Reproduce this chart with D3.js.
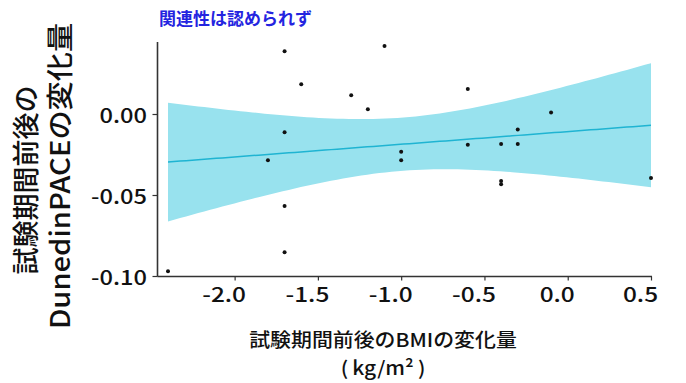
<!DOCTYPE html>
<html><head><meta charset="utf-8">
<script src="https://cdn.jsdelivr.net/npm/d3@7/dist/d3.min.js"></script>
<style>
html,body{margin:0;padding:0;background:#fff;}
svg text{font-family:"Noto Sans CJK JP","Noto Sans",sans-serif;}
</style></head>
<body><svg id="c" width="686" height="383"></svg>
<script>
// ---- data ----
const bmiChange = [-2.4,-1.8,-1.7,-1.7,-1.7,-1.7,-1.6,-1.3,-1.2,-1.1,-1.0,-1.0,-0.6,-0.6,-0.4,-0.4,-0.4,-0.3,-0.3,-0.1,0.5];
const paceChange = [-0.097,-0.0286,0.0387,-0.0113,-0.0568,-0.0854,0.0183,0.0115,0.0029,0.042,-0.0233,-0.0286,0.0154,-0.019,-0.0185,-0.0414,-0.0434,-0.0095,-0.0185,0.001,-0.0395];
const xTicks = [-2.0,-1.5,-1.0,-0.5,0.0,0.5];
const yTicks = [0.00,-0.05,-0.10];
const titleText = "関連性は認められず";
const yTitleLines = ["試験期間前後の","DunedinPACEの変化量"];
const xTitleLines = ["試験期間前後のBMIの変化量","(\u2009kg/m²\u2009)"];
const tCrit = 2.093; // t(0.975, df=19)

// ---- linear fit with 95% CI ----
const n = bmiChange.length;
const mx = d3.mean(bmiChange), my = d3.mean(paceChange);
let sxx=0, sxy=0;
for(let i=0;i<n;i++){ sxx += (bmiChange[i]-mx)**2; sxy += (bmiChange[i]-mx)*(paceChange[i]-my); }
const slope = sxy/sxx, intercept = my - slope*mx;
let sse=0; for(let i=0;i<n;i++){ sse += (paceChange[i]-(intercept+slope*bmiChange[i]))**2; }
const s = Math.sqrt(sse/(n-2));
const [xmin,xmax] = d3.extent(bmiChange);
const fit = d3.range(0,81).map(k=>{
  const xv = xmin + (xmax-xmin)*k/80;
  const yv = intercept + slope*xv;
  const se = s*Math.sqrt(1/n + (xv-mx)**2/sxx);
  return {x:xv, y:yv, lo:yv-tCrit*se, hi:yv+tCrit*se};
});

// ---- layout ----
const svg = d3.select("#c");
const x = d3.scaleLinear().domain([xmin,xmax]).range([168,651]);
const y = d3.scaleLinear().domain([-0.1,0]).range([276,114]);
const axisLeftX = 157.5, axisTopY = 42, axisBottomY = 276.5;
const hyph = f => v => f(v).replace("\u2212","-");

// band
svg.append("path").datum(fit)
  .attr("d", d3.area().x(d=>x(d.x)).y0(d=>y(d.lo)).y1(d=>y(d.hi)))
  .attr("fill","#98e2ee");
// line
svg.append("path").datum(fit)
  .attr("d", d3.line().x(d=>x(d.x)).y(d=>y(d.y)))
  .attr("fill","none").attr("stroke","#1fb4d2").attr("stroke-width",1.5);
// points
svg.append("g").selectAll("circle").data(bmiChange).join("circle")
  .attr("cx",(d)=>x(d)).attr("cy",(d,i)=>y(paceChange[i])).attr("r",2).attr("fill","#111");

// axes lines
svg.append("line").attr("x1",axisLeftX).attr("x2",axisLeftX).attr("y1",axisTopY).attr("y2",axisBottomY)
  .attr("stroke","#333").attr("stroke-width",1.6);
svg.append("line").attr("x1",axisLeftX).attr("x2",x(xmax)+1).attr("y1",axisBottomY).attr("y2",axisBottomY)
  .attr("stroke","#333").attr("stroke-width",1.6);

// x axis ticks
const xAxis = svg.append("g").attr("transform",`translate(0,${axisBottomY})`)
  .call(d3.axisBottom(x).tickValues(xTicks).tickFormat(hyph(d3.format(".1f"))).tickSize(4).tickPadding(7));
xAxis.select(".domain").remove();
xAxis.selectAll("line").attr("stroke","#333").attr("stroke-width",1.2);
xAxis.selectAll("text").attr("font-size",20).attr("fill","#111").attr("font-weight",500)
  .attr("font-family","'Noto Sans CJK JP',sans-serif")
  .attr("transform","translate(-11,0) scale(1.22,1)");

// y axis ticks
const yAxis = svg.append("g").attr("transform",`translate(${axisLeftX},0)`)
  .call(d3.axisLeft(y).tickValues(yTicks).tickFormat(hyph(d3.format(".2f"))).tickSize(5).tickPadding(4));
yAxis.select(".domain").remove();
yAxis.selectAll("line").attr("stroke","#333").attr("stroke-width",1.2);
yAxis.selectAll("text").attr("font-size",20).attr("fill","#111").attr("font-weight",500)
  .attr("font-family","'Noto Sans CJK JP',sans-serif")
  .attr("transform","translate(0,2) scale(1.18,1)");

// title
svg.append("text").attr("x",159).attr("y",25).text(titleText)
  .attr("font-size",17).attr("font-weight","bold").attr("fill","#2424e0");

// y title
yTitleLines.forEach((t,i)=>{
  svg.append("text").attr("transform",`translate(${[36,70][i]},${[180,176][i]}) rotate(-90) scale(${[1,1.08][i]},1)`)
    .attr("text-anchor","middle").attr("font-size",27).attr("font-weight",500).attr("fill","#111").text(t);
});
// x title
xTitleLines.forEach((t,i)=>{
  svg.append("text").attr("transform",`translate(383,${[347,375][i]}) scale(1.1,1)`)
    .attr("text-anchor","middle").attr("font-size",19).attr("font-weight",500).attr("fill","#111").text(t);
});
</script></body></html>
